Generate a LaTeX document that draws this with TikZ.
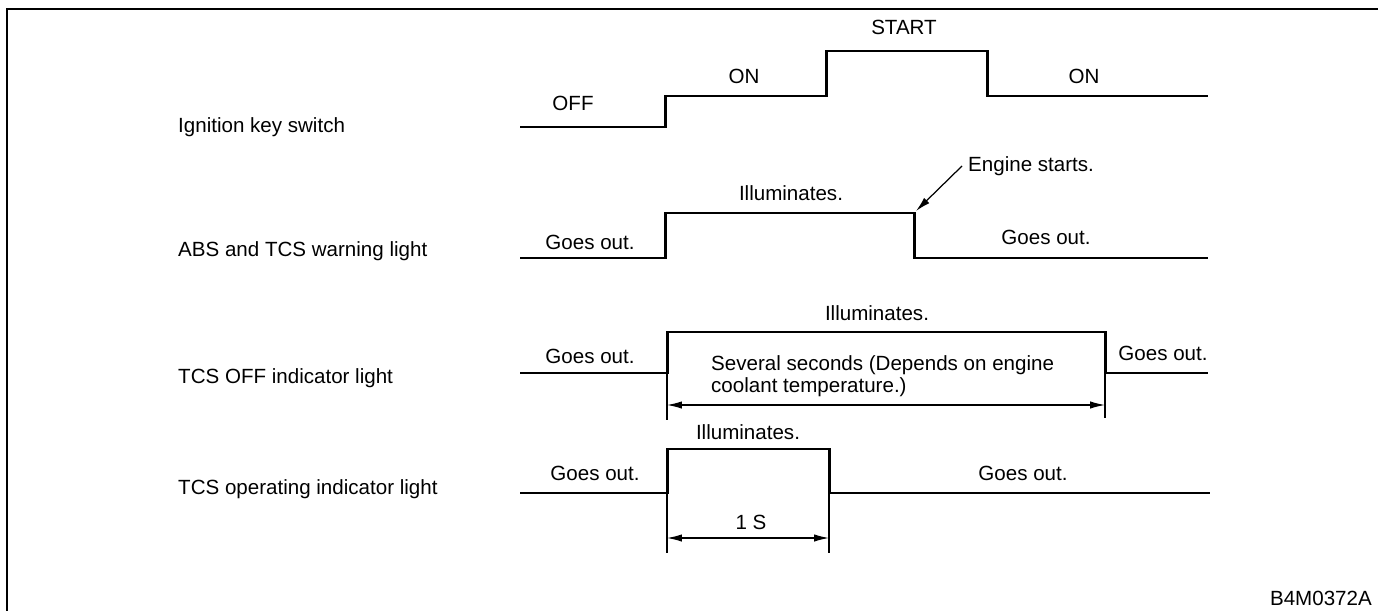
\documentclass[tikz,border=0pt]{standalone}
\usepackage{fontspec}
\setmainfont{Liberation Sans}
\usepackage{tikz}
\usetikzlibrary{arrows.meta, positioning, calc}

\begin{document}
\begin{tikzpicture}[x=0.02cm, y=-0.02cm, font=\fontsize{11.7}{12.6}\selectfont,
    wave/.style={line width=1.7pt, line join=miter},
    dimline/.style={{Latex[length=8.5pt,width=4.2pt]}-{Latex[length=8.5pt,width=4.2pt]}, line width=0.7pt},
    extline/.style={line width=0.7pt},
    pointer/.style={-{Latex[length=8.5pt,width=4.2pt]}, line width=0.7pt}]
        \useasboundingbox (0,0) rectangle (1378,611);
        \draw[line width=1.1pt] (1378,9) -- (7,9) -- (7,611);

        % Signal names
        \node[anchor=west] (ign) at (172,127) {Ignition key switch};
        \node[anchor=west] (abs) at (172,251) {ABS and TCS warning light};
        \node[anchor=west] (tcsoff) at (172,378) {TCS OFF indicator light};
        \node[anchor=west] (tcsop) at (172,489) {TCS operating indicator light};

        % Ignition key switch
        \draw[wave] (520,127) -- (665,127) -- (665,96) -- (826,96) -- (826,51) -- (987,51) -- (987,96) -- (1208,96);
        \node (off) at (573,103) {OFF};
        \node (on1) at (744,76) {ON};
        \node (start) at (904,27) {START};
        \node (on2) at (1084,76) {ON};

        % ABS and TCS warning light
        \draw[wave] (520,258) -- (665,258) -- (665,213) -- (914,213) -- (914,258) -- (1208,258);
        \coordinate (abscorner) at (916,211);
        \node (absout1) at (590,242) {Goes out.};
        \node (absill) at (791,193) {Illuminates.};
        \node (absout2) at (1046,237) {Goes out.};
        \node[anchor=west] (engine) at (962,166) {Engine starts.};
        \draw[pointer] (engine.west) -- (abscorner);

        % TCS OFF indicator light
        \draw[wave] (520,373) -- (667,373) -- (667,332) -- (1105,332) -- (1105,373) -- (1208,373);
        \node (offill) at (877,313) {Illuminates.};
        \node (offout1) at (590,356) {Goes out.};
        \node (offout2) at (1163,353) {Goes out.};
        \node[anchor=west, align=left] (several) at (705,376) {Several seconds (Depends on engine\\coolant temperature.)};
        \coordinate (offa) at (667,405);
        \coordinate (offb) at (1105,405);
        \draw[extline] (667,373) -- (667,420);
        \draw[extline] (1105,373) -- (1105,418);
        \draw[dimline] (offa) -- (offb);

        % TCS operating indicator light
        \draw[wave] (520,493) -- (667,493) -- (667,449) -- (829,449) -- (829,493) -- (1210,493);
        \node (opill) at (748,432) {Illuminates.};
        \node (opout1) at (595,473) {Goes out.};
        \node (opout2) at (1023,473) {Goes out.};
        \node (onesec) at (751,522) {1 S};
        \coordinate (opa) at (667,538);
        \coordinate (opb) at (829,538);
        \draw[extline] (667,493) -- (667,553);
        \draw[extline] (829,493) -- (829,553);
        \draw[dimline] (opa) -- (opb);

        \node[anchor=east] (code) at (1378,598) {B4M0372A};

    \end{tikzpicture}
\end{document}
